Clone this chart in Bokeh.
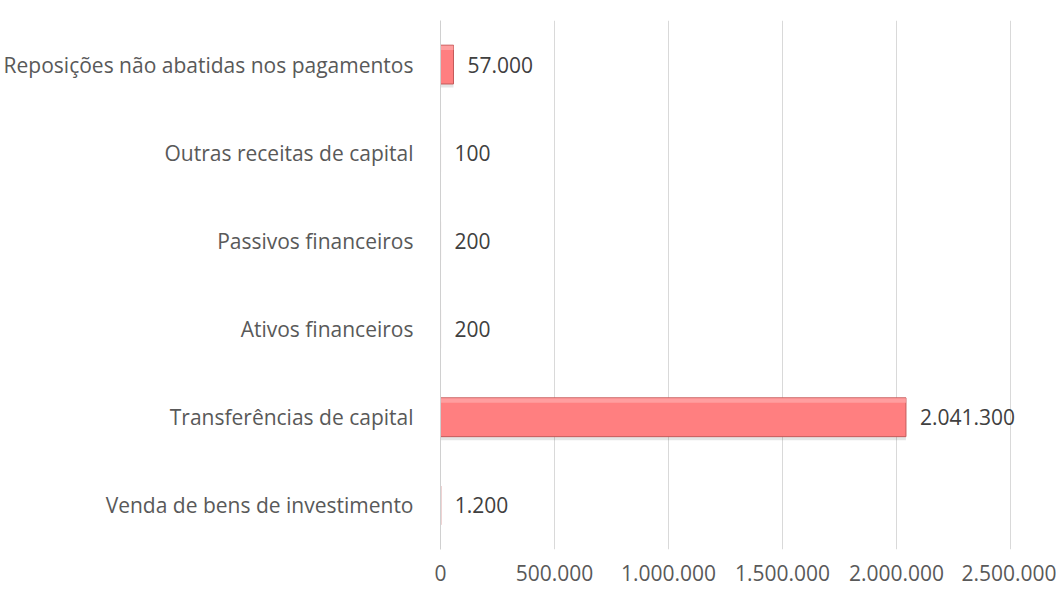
from bokeh.plotting import figure
from bokeh.models import ColumnDataSource, CustomJSTickFormatter, FixedTicker, LabelSet
from bokeh.transform import dodge
from bokeh.core.properties import value
from bokeh.embed import file_html
from bokeh.resources import INLINE

categories = [
    "Venda de bens de investimento",
    "Transferências de capital",
    "Ativos financeiros",
    "Passivos financeiros",
    "Outras receitas de capital",
    "Reposições não abatidas nos pagamentos",
]
values = [1200, 2041300, 200, 200, 100, 57000]
value_labels = ["1.200", "2.041.300", "200", "200", "100", "57.000"]
x_ticks = [0, 500000, 1000000, 1500000, 2000000, 2500000]

FONT = "Open Sans"

src = ColumnDataSource(dict(cat=categories, val=values, lab=value_labels))

p = figure(
    y_range=categories,
    x_range=(0, 2587500),
    width=1056, height=585,
    output_backend="svg", toolbar_location=None,
    min_border_left=439, min_border_right=26,
    min_border_top=20, min_border_bottom=36,
)
p.outline_line_color = None
p.background_fill_color = "white"
p.border_fill_color = "white"

# soft shadow under the bars
p.hbar(y=dodge("cat", -0.04, range=p.y_range), right="val", left=0, height=0.44,
       source=src, fill_color="#000000", fill_alpha=0.10, line_color=None)

p.hbar(y="cat", right="val", left=0, height=0.44, source=src,
       fill_color="#FF7F80", line_color="#C45A5A", line_width=1)
# top highlight
p.hbar(y=dodge("cat", 0.19, range=p.y_range), right="val", left=0, height=0.05,
       source=src, fill_color="#FFA6A6", fill_alpha=0.8, line_color=None)

labels = LabelSet(x="val", y="cat", text="lab", source=src, x_offset=14,
                  text_baseline="middle", text_align="left",
                  text_font=value(FONT), text_font_size=value("21px"),
                  text_color=value("#404040"))
p.add_layout(labels)

p.xaxis.ticker = FixedTicker(ticks=x_ticks)
p.xaxis.formatter = CustomJSTickFormatter(code="""
return tick.toFixed(0).replace(/\\B(?=(\\d{3})+(?!\\d))/g, '.');
""")
p.xaxis.axis_line_color = None
p.xaxis.major_tick_line_color = None
p.xaxis.minor_tick_line_color = None
p.xaxis.major_label_standoff = 9
p.xaxis.major_label_text_font = FONT
p.xaxis.major_label_text_font_size = "21px"
p.xaxis.major_label_text_color = "#595959"

p.yaxis.axis_line_color = "#D0D0D0"
p.yaxis.major_tick_line_color = None
p.yaxis.minor_tick_line_color = None
p.yaxis.major_label_standoff = 21
p.yaxis.major_label_text_font = FONT
p.yaxis.major_label_text_font_size = "21px"
p.yaxis.major_label_text_color = "#595959"

p.xgrid.grid_line_color = "#D9D9D9"
p.ygrid.grid_line_color = None

open("out.html", "w").write(file_html(p, INLINE))
